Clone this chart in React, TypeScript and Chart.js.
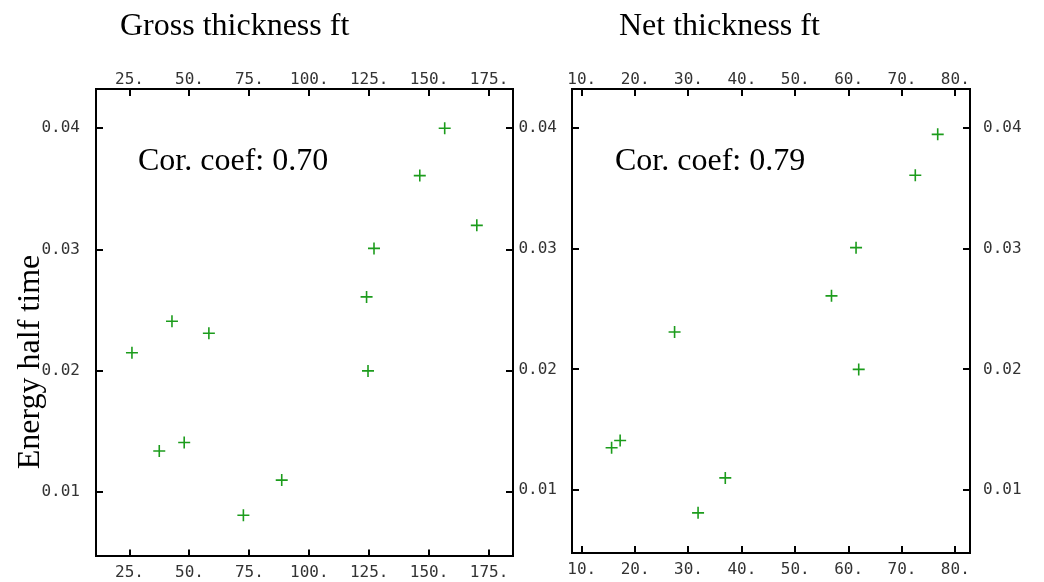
import React, { useEffect, useRef } from 'react';
import { Chart, registerables } from 'chart.js';

Chart.register(...registerables);

// ---- data ----
const grossThickness = [26.0, 42.7, 58.1, 123.9, 124.5, 37.4, 47.8, 88.5, 72.5, 156.5, 146.1, 169.9, 127.0];
const grossEnergy = [0.0215, 0.0241, 0.0231, 0.0261, 0.02, 0.0134, 0.0141, 0.011, 0.0081, 0.04, 0.0361, 0.032, 0.0301];
const netThickness = [15.6, 17.2, 27.4, 31.8, 36.9, 56.8, 61.9, 61.4, 72.5, 76.7];
const netEnergy = [0.0135, 0.0141, 0.0231, 0.0081, 0.011, 0.0261, 0.02, 0.0301, 0.0361, 0.0395];

const grossTicks = [25, 50, 75, 100, 125, 150, 175];
const netTicks = [10, 20, 30, 40, 50, 60, 70, 80];
const energyTicks = [0.01, 0.02, 0.03, 0.04];

const grossTitle = 'Gross thickness ft';
const netTitle = 'Net thickness ft';
const yTitle = 'Energy half time';
const grossCoef = 'Cor. coef: 0.70';
const netCoef = 'Cor. coef: 0.79';

// ---- style ----
const W = 1044;
const H = 582;
const GREEN = '#1c9c1c';
const TICK_COLOR = '#333';
const tickFont = { family: '"DejaVu Sans Mono", monospace', size: 16 };
const SERIF = '"Liberation Serif", "Times New Roman", serif';

type Box = { left: number; right: number; top: number; bottom: number };
type TextItem = { text: string; x: number; y: number; size: number; rotate?: boolean };

function textPlugin(items: TextItem[]) {
  return {
    id: 'panelText',
    afterDraw(chart: any) {
      const ctx = chart.ctx;
      ctx.save();
      ctx.fillStyle = '#000';
      for (const it of items) {
        ctx.font = `${it.size}px ${SERIF}`;
        ctx.textBaseline = 'alphabetic';
        if (it.rotate) {
          ctx.save();
          ctx.translate(it.x, it.y);
          ctx.rotate(-Math.PI / 2);
          ctx.textAlign = 'center';
          ctx.fillText(it.text, 0, 0);
          ctx.restore();
        } else {
          ctx.textAlign = 'left';
          ctx.fillText(it.text, it.x, it.y);
        }
      }
      ctx.restore();
    },
  };
}

const inwardTicks = {
  id: 'inwardTicks',
  afterDraw(chart: any) {
    const { ctx, chartArea: a } = chart;
    const len = 7;
    ctx.save();
    ctx.strokeStyle = '#000';
    ctx.lineWidth = 2;
    const line = (x0: number, y0: number, x1: number, y1: number) => {
      ctx.beginPath();
      ctx.moveTo(x0, y0);
      ctx.lineTo(x1, y1);
      ctx.stroke();
    };
    for (const id of ['x', 'x2']) {
      const s = chart.scales[id];
      s.ticks.forEach((t: any) => {
        const px = Math.round(s.getPixelForValue(t.value));
        if (id === 'x') line(px, a.bottom, px, a.bottom - len);
        else line(px, a.top, px, a.top + len);
      });
    }
    for (const id of ['y', 'y2']) {
      const s = chart.scales[id];
      s.ticks.forEach((t: any) => {
        const py = Math.round(s.getPixelForValue(t.value));
        if (id === 'y') line(a.left, py, a.left + len, py);
        else line(a.right, py, a.right - len, py);
      });
    }
    ctx.restore();
  },
};

type PanelOpts = {
  xs: number[];
  ys: number[];
  xTicks: number[];
  xMin: number;
  xMax: number;
  yMin: number;
  yMax: number;
  area: Box;
  leftWidth: number;
  rightWidth: number;
  leftLabels: boolean;
  rightLabels: boolean;
  leftPad: number;
  rightPad: number;
  texts: TextItem[];
};

function makeConfig(o: PanelOpts): any {
  const border = { display: true, color: '#000', width: 2 };
  const grid = { display: false, drawTicks: false };
  const xTickCfg = (padding: number) => ({
    font: tickFont,
    color: TICK_COLOR,
    padding,
    maxRotation: 0,
    autoSkip: false,
    callback: (v: any) => `${v}.`,
  });
  const yTickCfg = (display: boolean, padding: number) => ({
    display,
    font: tickFont,
    color: TICK_COLOR,
    padding,
    autoSkip: false,
    callback: (v: any) => Number(v).toFixed(2),
  });
  const setX = (s: any) => {
    s.ticks = o.xTicks.map((v) => ({ value: v }));
  };
  const setY = (s: any) => {
    s.ticks = energyTicks.map((v) => ({ value: v }));
  };
  return {
    type: 'scatter',
    data: {
      datasets: [
        {
          data: o.xs.map((x, i) => ({ x, y: o.ys[i] })),
          pointStyle: 'cross',
          pointRadius: 6,
          pointHoverRadius: 6,
          borderColor: GREEN,
          backgroundColor: GREEN,
          borderWidth: 1.6,
          xAxisID: 'x',
          yAxisID: 'y',
        },
      ],
    },
    options: {
      animation: false,
      responsive: false,
      devicePixelRatio: 1,
      events: [],
      layout: {
        padding: {
          left: o.area.left - o.leftWidth,
          right: W - o.area.right - o.rightWidth,
          top: 0,
          bottom: 0,
        },
      },
      plugins: { legend: { display: false }, tooltip: { enabled: false }, title: { display: false } },
      scales: {
        x: {
          type: 'linear',
          position: 'bottom',
          min: o.xMin,
          max: o.xMax,
          afterBuildTicks: setX,
          afterFit: (s: any) => {
            s.height = H - o.area.bottom;
          },
          grid,
          border,
          ticks: xTickCfg(7),
        },
        x2: {
          type: 'linear',
          position: 'top',
          min: o.xMin,
          max: o.xMax,
          afterBuildTicks: setX,
          afterFit: (s: any) => {
            s.height = o.area.top;
          },
          grid,
          border,
          ticks: xTickCfg(0),
        },
        y: {
          type: 'linear',
          position: 'left',
          min: o.yMin,
          max: o.yMax,
          afterBuildTicks: setY,
          afterFit: (s: any) => {
            s.width = o.leftWidth;
          },
          grid,
          border,
          ticks: yTickCfg(o.leftLabels, o.leftPad),
        },
        y2: {
          type: 'linear',
          position: 'right',
          min: o.yMin,
          max: o.yMax,
          afterBuildTicks: setY,
          afterFit: (s: any) => {
            s.width = o.rightWidth;
          },
          grid,
          border,
          ticks: yTickCfg(o.rightLabels, o.rightPad),
        },
      },
    },
    plugins: [inwardTicks, textPlugin(o.texts)],
  };
}

export default function App() {
  const leftRef = useRef<HTMLCanvasElement>(null);
  const rightRef = useRef<HTMLCanvasElement>(null);

  useEffect(() => {
    const left = new Chart(
      leftRef.current as HTMLCanvasElement,
      makeConfig({
        xs: grossThickness,
        ys: grossEnergy,
        xTicks: grossTicks,
        xMin: 11,
        xMax: 185,
        yMin: 0.00471,
        yMax: 0.04324,
        area: { left: 96, right: 513, top: 89, bottom: 557 },
        leftWidth: 96,
        rightWidth: 7,
        leftLabels: true,
        rightLabels: false,
        leftPad: 16,
        rightPad: 13,
        texts: [
          { text: grossTitle, x: 120, y: 35, size: 32 },
          { text: grossCoef, x: 138, y: 170, size: 32 },
          { text: yTitle, x: 39, y: 362, size: 32, rotate: true },
        ],
      })
    );
    const right = new Chart(
      rightRef.current as HTMLCanvasElement,
      makeConfig({
        xs: netThickness,
        ys: netEnergy,
        xTicks: netTicks,
        xMin: 8.18,
        xMax: 82.75,
        yMin: 0.00477,
        yMax: 0.04326,
        area: { left: 572, right: 970, top: 89, bottom: 553 },
        leftWidth: 60,
        rightWidth: 74,
        leftLabels: true,
        rightLabels: true,
        leftPad: 15,
        rightPad: 13,
        texts: [
          { text: netTitle, x: 619, y: 35, size: 32 },
          { text: netCoef, x: 615, y: 170, size: 32 },
        ],
      })
    );
    return () => {
      left.destroy();
      right.destroy();
    };
  }, []);

  return (
    <div style={{ position: 'absolute', left: 0, top: 0, width: W, height: H, background: '#fff' }}>
      <canvas ref={leftRef} width={W} height={H} style={{ position: 'absolute', left: 0, top: 0 }} />
      <canvas ref={rightRef} width={W} height={H} style={{ position: 'absolute', left: 0, top: 0 }} />
    </div>
  );
}
